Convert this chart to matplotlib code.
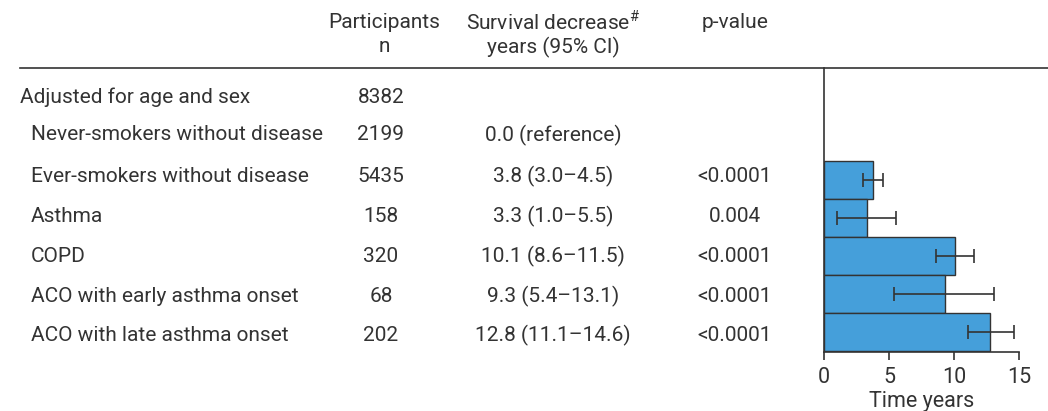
import matplotlib
matplotlib.use("Agg")

import matplotlib.pyplot as plt
from matplotlib.lines import Line2D

W, H = 1048, 411
DPI = 100
TEXT_COLOR = "#333333"
BAR_COLOR = "#459fda"
EDGE_COLOR = "#333333"
FONT = "Roboto"
FS = 15

header_top = ["Participants", "Survival decrease$^{\\#}$", "p-value"]
header_bottom = ["n", "years (95% CI)", ""]
group_label = "Adjusted for age and sex"
group_n = "8382"
labels = [
    "Never-smokers without disease",
    "Ever-smokers without disease",
    "Asthma",
    "COPD",
    "ACO with early asthma onset",
    "ACO with late asthma onset",
]
n_values = ["2199", "5435", "158", "320", "68", "202"]
estimates = [None, 3.8, 3.3, 10.1, 9.3, 12.8]
ci_low = [None, 3.0, 1.0, 8.6, 5.4, 11.1]
ci_high = [None, 4.5, 5.5, 11.5, 13.1, 14.6]
effect_text = ["0.0 (reference)", "3.8 (3.0\u20134.5)", "3.3 (1.0\u20135.5)",
               "10.1 (8.6\u201311.5)", "9.3 (5.4\u201313.1)", "12.8 (11.1\u201314.6)"]
p_values = ["", "<0.0001", "0.004", "<0.0001", "<0.0001", "<0.0001"]
x_ticks = [0, 5, 10, 15]

plt.rcParams["font.family"] = [FONT, "DejaVu Sans"]
plt.rcParams["mathtext.fontset"] = "custom"
plt.rcParams["mathtext.rm"] = FONT

fig = plt.figure(figsize=(W / DPI, H / DPI), dpi=DPI)


def fx(px):
    return px / W


def fy(py):
    return 1 - py / H


def put(x, y, s, ha="left"):
    fig.text(fx(x), fy(y), s, ha=ha, va="center", fontsize=FS, color=TEXT_COLOR)


# header
for x, top, bottom in zip([384, 553, 735], header_top, header_bottom):
    put(x, 22, top, ha="center")
    put(x, 47, bottom, ha="center")

fig.add_artist(Line2D([fx(20), 1.0], [fy(68), fy(68)], color=TEXT_COLOR, lw=1.2))

# table rows
put(20, 97, group_label)
put(381, 97, group_n, ha="center")
row_y = [135, 176, 216, 256, 296, 335]
for y, lab, n, eff, p in zip(row_y, labels, n_values, effect_text, p_values):
    put(31, y, lab)
    put(381, y, n, ha="center")
    put(553, y, eff, ha="center")
    put(735, y, p, ha="center")

# bar panel
ax = fig.add_axes([fx(824), fy(352), fx(1019) - fx(824), fy(68) - fy(352)])
vals = [v for v in estimates if v is not None]
lo = [v for v in ci_low if v is not None]
hi = [v for v in ci_high if v is not None]
pos = list(range(len(vals) - 1, -1, -1))
ax.barh(pos, vals, height=1.0, color=BAR_COLOR, edgecolor=EDGE_COLOR, lw=1.0)
xerr = [[v - l for v, l in zip(vals, lo)], [h - v for v, h in zip(vals, hi)]]
ax.errorbar(vals, pos, xerr=xerr, fmt="none", ecolor=EDGE_COLOR, elinewidth=1.2,
            capsize=5, capthick=1.2)
ax.set_xlim(0, 15)
ax.set_ylim(-0.526, 6.947)
ax.set_xticks(x_ticks)
ax.set_yticks([])
for side in ["top", "right"]:
    ax.spines[side].set_visible(False)
for side in ["left", "bottom"]:
    ax.spines[side].set_color(EDGE_COLOR)
    ax.spines[side].set_linewidth(1.2)
ax.tick_params(axis="x", direction="out", length=6, width=1.2, colors=EDGE_COLOR,
               labelsize=FS + 0.5, labelcolor=TEXT_COLOR, pad=5)
ax.set_xlabel("Time years", fontsize=FS + 0.5, color=TEXT_COLOR, labelpad=2)
ax.patch.set_alpha(0)

fig.savefig("out.png", dpi=DPI)
